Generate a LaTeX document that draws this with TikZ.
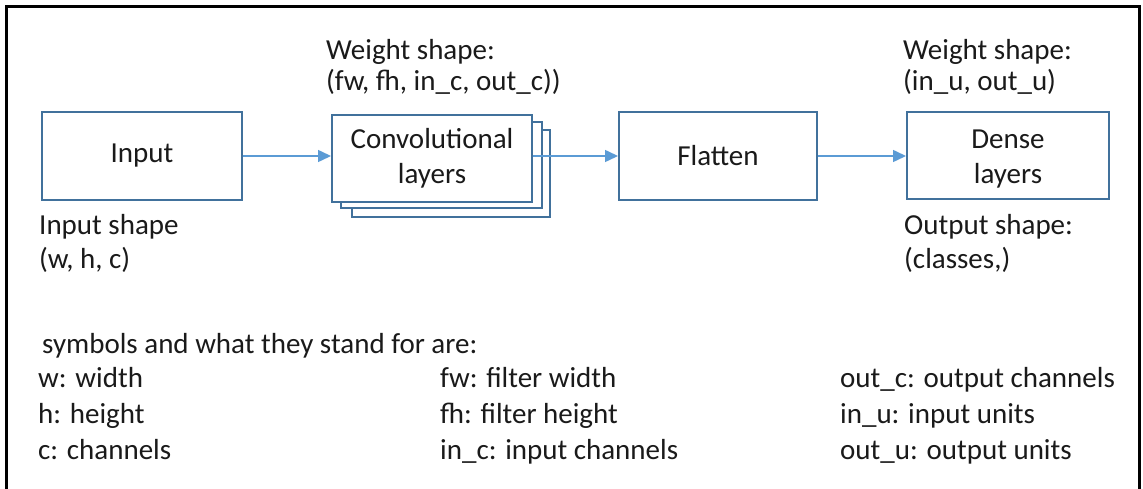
\documentclass[tikz,border=0pt]{standalone}
\usepackage{fontspec}
\setmainfont{Carlito}
\usetikzlibrary{arrows.meta}
\definecolor{boxblue}{HTML}{41719C}
\definecolor{arrblue}{HTML}{5B9BD5}
\definecolor{txt}{HTML}{1A1A1A}
\begin{document}
\begin{tikzpicture}[x=1pt,y=-1pt,
 every node/.style={font=\fontsize{29}{35}\selectfont, text=txt, inner sep=0pt},
 blk/.style={draw=boxblue, line width=2pt, fill=white, minimum height=88pt, align=center},
 lbl/.style={anchor=base west},
 layer/.style={draw=boxblue, line width=2pt, fill=white},
 flow/.style={draw=arrblue, line width=1.5pt, -{Triangle[length=13pt,width=12pt]}}]
\useasboundingbox (0,0) rectangle (1143,489);
\clip (0,0) rectangle (1143,489);
\fill[white] (0,0) rectangle (1143,489);
\draw[line width=3pt] (6.5,6.5) rectangle (1139.5,520);

% blocks
\node[blk, minimum width=200pt] (in) at (142,156) {Input};
\draw[layer] (352,130) rectangle (550,217);
\draw[layer] (341,122) rectangle (542,208);
\node[blk, minimum width=200pt, minimum height=87pt] (conv) at (432,158.5) {Convolutional\\layers};
\node[blk, minimum width=198pt] (flat) at (718,156) {Flatten};
\node[blk, minimum width=202pt, minimum height=87pt] (dense) at (1008,155.5) {};
\node[align=center] (densetxt) at (1008,159) {Dense\\layers};

% arrows
\draw[flow] (in.east) -- (in.east -| conv.west);
\draw[flow] (conv.east |- flat.west) -- (flat.west);
\draw[flow] (flat.east) -- (flat.east -| dense.west);

% annotations
\node[lbl] (w1a) at (326,60) {Weight shape:};
\node[lbl] (w1b) at (326,91) {(fw, fh, in\_c, out\_c))};
\node[lbl] (w2a) at (903,60) {Weight shape:};
\node[lbl] (w2b) at (903,91) {(in\_u, out\_u)};
\node[lbl] (is1) at (39,235) {Input shape};
\node[lbl] (is2) at (39,269) {(w, h, c)};
\node[lbl] (os1) at (904,235) {Output shape:};
\node[lbl] (os2) at (904,269) {(classes,)};

% legend
\node[lbl] (leg) at (42,353) {symbols and what they stand for are:};
\node[lbl] (a1) at (38,387) {w: width};
\node[lbl] (a2) at (38,423) {h: height};
\node[lbl] (a3) at (38,459) {c: channels};
\node[lbl] (b1) at (440,387) {fw: filter width};
\node[lbl] (b2) at (440,423) {fh: filter height};
\node[lbl] (b3) at (440,459) {in\_c: input channels};
\node[lbl] (c1) at (840,387) {out\_c: output channels};
\node[lbl] (c2) at (840,423) {in\_u: input units};
\node[lbl] (c3) at (840,459) {out\_u: output units};
\end{tikzpicture}
\end{document}
